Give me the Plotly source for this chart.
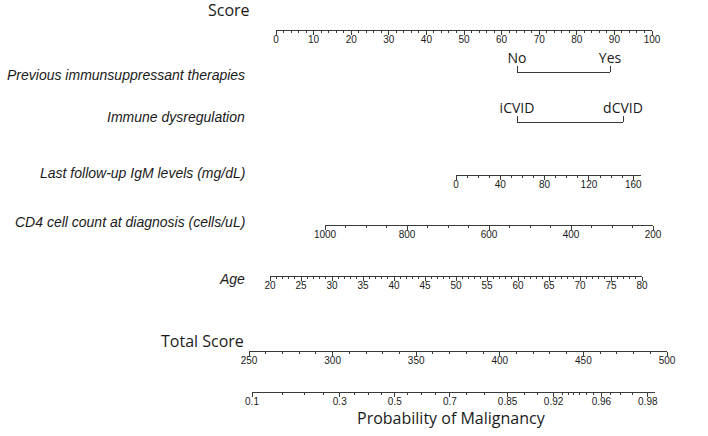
import math
import plotly.graph_objects as go

# ---------------- data ----------------
score_ticks = list(range(0, 101, 10))

therapy_levels = ["No", "Yes"]
immune_levels = ["iCVID", "dCVID"]

igm_ticks = [0, 40, 80, 120, 160]
igm_max = 167

cd4_ticks = [1000, 800, 600, 400, 200]

age_ticks = list(range(20, 81, 5))

total_ticks = [250, 300, 350, 400, 450, 500]

prob_ticks = [0.1, 0.3, 0.5, 0.7, 0.85, 0.92, 0.96, 0.98]
prob_labels = ["0.1", "0.3", "0.5", "0.7", "0.85", "0.92", "0.96", "0.98"]
prob_minor = [0.15, 0.2, 0.25, 0.35, 0.4, 0.45, 0.55, 0.6, 0.65, 0.75, 0.8,
              0.88, 0.9, 0.93, 0.935, 0.94, 0.945, 0.95, 0.955, 0.965, 0.97, 0.975]

var_titles = ["Previous immunsuppressant therapies", "Immune dysregulation",
              "Last follow-up IgM levels (mg/dL)", "CD4 cell count at diagnosis (cells/uL)",
              "Age"]


def logit(p):
    return math.log(p / (1 - p))


# ---------------- layout geometry ----------------
W, H = 708, 436
LINE = "#3a3a3a"
TXT = "#1a1a1a"
TICKFONT = dict(family="Liberation Sans, Arial", size=10, color=TXT)
CATFONT = dict(family="Open Sans", size=14, color=TXT)

logit_px = 65.0
prob_x0 = 252
prob_x1 = 655
prob_range = [logit(prob_ticks[0]), logit(prob_ticks[0]) + (prob_x1 - prob_x0) / logit_px]

axes = [
    dict(px=(276, 652), rng=[0, 100], py=30, tv=score_ticks, tt=[str(v) for v in score_ticks],
         minor=dict(dtick=2, tick0=0), side="bottom", font=TICKFONT),
    dict(px=(517, 610), rng=[0, 1], py=73, tv=[0, 1], tt=therapy_levels,
         minor=None, side="top", font=CATFONT),
    dict(px=(517, 623), rng=[0, 1], py=123, tv=[0, 1], tt=immune_levels,
         minor=None, side="top", font=CATFONT),
    dict(px=(456, 641), rng=[0, igm_max], py=175, tv=igm_ticks, tt=[str(v) for v in igm_ticks],
         minor=dict(dtick=10, tick0=0), side="bottom", font=TICKFONT),
    dict(px=(325, 653), rng=[1000, 200], py=225, tv=cd4_ticks, tt=[str(v) for v in cd4_ticks],
         minor=dict(dtick=50, tick0=0), side="bottom", font=TICKFONT),
    dict(px=(270, 642), rng=[20, 80], py=276, tv=age_ticks, tt=[str(v) for v in age_ticks],
         minor=dict(dtick=1, tick0=0), side="bottom", font=TICKFONT),
    dict(px=(249, 667), rng=[250, 500], py=351, tv=total_ticks, tt=[str(v) for v in total_ticks],
         minor=dict(dtick=10, tick0=0), side="bottom", font=TICKFONT),
    dict(px=(prob_x0, prob_x1), rng=prob_range, py=392, tv=[logit(p) for p in prob_ticks],
         tt=prob_labels, minor=dict(tickmode="array", tickvals=[logit(p) for p in prob_minor]),
         side="bottom", font=TICKFONT),
]

fig = go.Figure()
layout = dict(
    width=W, height=H, autosize=False, margin=dict(l=0, r=0, t=0, b=0, pad=0),
    paper_bgcolor="white", plot_bgcolor="white", showlegend=False,
)

EPS = 0.01
for i, a in enumerate(axes):
    n = "" if i == 0 else str(i + 1)
    pos = 1 - a["py"] / H
    bottom = a["side"] == "bottom"
    ydom = [pos, pos + EPS] if bottom else [pos - EPS, pos]
    fig.add_trace(go.Scatter(x=a["rng"], y=[0.5, 0.5], xaxis="x" + n, yaxis="y" + n,
                             mode="markers", marker=dict(opacity=0), hoverinfo="skip"))
    ax = dict(
        domain=[a["px"][0] / W, a["px"][1] / W], range=a["rng"], anchor="y" + n,
        side=a["side"], showline=True, linecolor=LINE, linewidth=1,
        showgrid=False, zeroline=False, ticks="outside", ticklen=4 if bottom else 6,
        tickcolor=LINE, tickwidth=1, tickmode="array", tickvals=a["tv"], ticktext=a["tt"],
        tickfont=a["font"], fixedrange=True, ticklabelstandoff=-4 if bottom else -3,
        automargin=False,
    )
    if a["minor"] is not None:
        m = dict(ticks="outside", ticklen=2, tickcolor=LINE, tickwidth=1, showgrid=False)
        m.update(a["minor"])
        ax["minor"] = m
    layout["xaxis" + n] = ax
    layout["yaxis" + n] = dict(domain=ydom, range=[0, 1], anchor="x" + n, visible=False,
                               fixedrange=True, automargin=False)

fig.update_layout(**layout)

# titles
title_font = dict(family="Liberation Sans, Arial", size=14, color=TXT)
title_y = [75, 117, 173, 222, 279]
annotations = []
for t, ty in zip(var_titles, title_y):
    annotations.append(dict(text="<i>" + t + "</i>", x=247 / W, y=1 - ty / H, xref="paper", yref="paper",
                            xanchor="right", yanchor="middle", showarrow=False, font=title_font))
big_font = dict(family="Open Sans", size=16, color=TXT)
annotations.append(dict(text="Score", x=252 / W, y=1 - 10 / H, xref="paper", yref="paper",
                        xanchor="right", yanchor="middle", showarrow=False, font=big_font))
annotations.append(dict(text="Total Score", x=246 / W, y=1 - 341 / H, xref="paper", yref="paper",
                        xanchor="right", yanchor="middle", showarrow=False, font=big_font))
annotations.append(dict(text="Probability of Malignancy", x=451 / W, y=1 - 418 / H, xref="paper",
                        yref="paper", xanchor="center", yanchor="middle", showarrow=False,
                        font=dict(family="Open Sans", size=16, color=TXT)))
fig.update_layout(annotations=annotations)

fig.write_html("out.html", config={"responsive": False, "displayModeBar": False})

# remove default page margins / scrollbars so the figure sits at the window origin
with open("out.html", "r", encoding="utf-8") as f:
    html = f.read()
html = html.replace("<head>", "<head><style>html,body{margin:0;padding:0;overflow:hidden;}</style>", 1)
with open("out.html", "w", encoding="utf-8") as f:
    f.write(html)
